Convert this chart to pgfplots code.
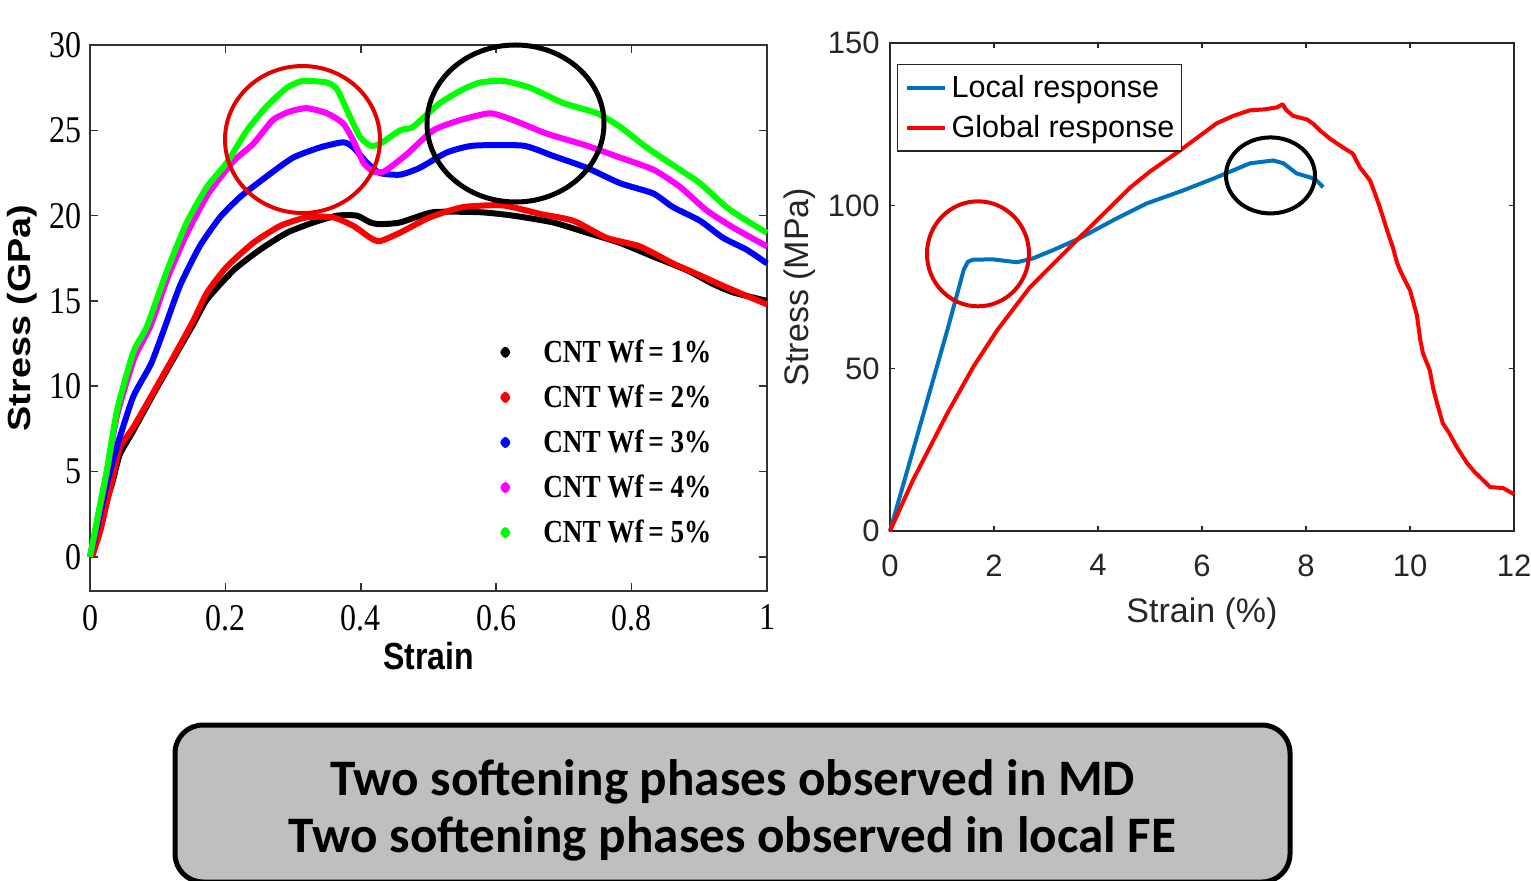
\documentclass[border=0pt]{standalone}
\usepackage{graphicx}
\usepackage{pgfplots}
\pgfplotsset{compat=1.18}
\usepackage{fontspec}
\setmainfont{Liberation Serif}
\newfontfamily\arialf{Liberation Sans}
\newfontfamily\calibrif{Carlito}

\definecolor{mlblue}{rgb}{0,0.447,0.741}
\definecolor{mlgray}{rgb}{0.15,0.15,0.15}
\definecolor{boxgray}{RGB}{191,191,191}
\definecolor{cntgreen}{RGB}{0,255,0}
\definecolor{cntmag}{RGB}{255,0,255}
\definecolor{cntblue}{RGB}{0,0,255}
\definecolor{cntred}{RGB}{255,0,0}

\newcommand{\vs}[1]{\scalebox{1}[1.18]{#1}}

\begin{document}
\begin{tikzpicture}
\useasboundingbox (0,0) rectangle (765.5pt,440pt);

% ---------------- MD stress-strain curves ----------------
\begin{axis}[
  at={(45pt,144.5pt)}, anchor=south west,
  scale only axis, width=338.5pt, height=273pt,
  xmin=0, xmax=1, ymin=-2, ymax=30,
  xtick={0,0.2,0.4,0.6,0.8,1}, ytick={0,5,10,15,20,25,30},
  tick align=inside, major tick length=4pt,
  axis line style={line width=1pt, black!80},
  every tick/.style={black!80, line width=0.8pt},
  /pgf/number format/assume math mode=true,
  tick label style={font=\fontsize{16}{16}\selectfont},
  xticklabel={\vs{\pgfmathprintnumber{\tick}}},
  yticklabel={\vs{\pgfmathprintnumber{\tick}}},
  xticklabel style={inner ysep=0pt, yshift=-6.75pt},
  yticklabel style={inner xsep=0pt, xshift=-4pt},
  xlabel={\scalebox{1}[1.18]{Strain}},
  ylabel={\scalebox{1.18}[1]{Stress (GPa)}},
  label style={font=\arialf\bfseries\fontsize{16}{16}\selectfont},
  xlabel style={at={(axis description cs:0.5,-0.119)}, anchor=center},
  ylabel style={at={(axis description cs:-0.1,0.5)}, anchor=center},
  legend style={draw=none, fill=none, at={(axis cs:0.61,13.0)}, anchor=north west,
    font=\bfseries\fontsize{13.6}{13.6}\selectfont, row sep=5.75pt, inner sep=0pt,
    /tikz/every odd column/.append style={column sep=16pt}},
  legend cell align=left,
  clip=false,
  every axis plot/.append style={line width=3pt, line join=round, smooth, tension=0.35},
]
\addplot[black, forget plot] table {
0 0
0.015 1.6
0.025 3.3
0.034 4.5
0.044 6.0
0.064 7.4
0.093 9.5
0.123 11.6
0.152 13.6
0.173 15.1
0.212 16.8
0.251 18.0
0.291 19.0
0.33 19.6
0.365 20.0
0.394 20.0
0.414 19.6
0.428 19.5
0.458 19.6
0.507 20.2
0.576 20.2
0.625 20.0
0.684 19.6
0.734 19.0
0.783 18.4
0.832 17.6
0.882 16.8
0.92 16.0
0.95 15.5
1.0 15.0
};
\addplot[cntred, forget plot] table {
0.003 0
0.015 1.5
0.025 3.2
0.034 4.7
0.044 6.4
0.064 7.6
0.093 9.6
0.123 11.7
0.152 13.8
0.173 15.5
0.202 17.0
0.241 18.4
0.281 19.4
0.32 19.9
0.359 19.9
0.389 19.4
0.414 18.7
0.428 18.5
0.458 19.0
0.502 19.9
0.551 20.5
0.61 20.6
0.665 20.1
0.714 19.7
0.763 18.7
0.812 18.2
0.861 17.2
0.901 16.5
0.94 15.8
1.0 14.8
};
\addplot[cntblue, forget plot] table {
0 0
0.012 2.0
0.025 4.3
0.04 6.5
0.064 9.4
0.09 11.3
0.11 13.4
0.133 15.9
0.162 18.2
0.192 19.9
0.222 21.1
0.261 22.3
0.3 23.4
0.34 24.0
0.374 24.3
0.389 24.0
0.409 23.1
0.428 22.5
0.458 22.4
0.487 22.8
0.527 23.7
0.566 24.1
0.64 24.1
0.684 23.5
0.734 22.8
0.783 21.9
0.832 21.3
0.861 20.5
0.901 19.7
0.935 18.7
0.97 18.0
1.0 17.2
};
\addplot[cntmag, forget plot] table {
0 0
0.012 2.3
0.025 5.0
0.04 8.3
0.065 11.6
0.09 13.6
0.115 16.4
0.145 19.1
0.175 21.3
0.212 23.2
0.241 24.2
0.27 25.6
0.295 26.1
0.32 26.3
0.35 26.0
0.374 25.4
0.389 24.4
0.404 23.1
0.418 22.6
0.435 22.6
0.468 23.6
0.507 25.0
0.547 25.6
0.591 26.0
0.625 25.6
0.675 24.8
0.734 24.1
0.783 23.4
0.832 22.7
0.871 21.7
0.911 20.3
0.95 19.3
1.0 18.2
};
\addplot[cntgreen, forget plot] table {
0 0
0.012 2.5
0.025 5.1
0.04 8.6
0.064 12.0
0.084 13.5
0.114 16.8
0.143 19.6
0.173 21.7
0.202 23.1
0.232 25.0
0.261 26.4
0.291 27.5
0.315 27.9
0.35 27.8
0.365 27.4
0.384 25.8
0.399 24.6
0.414 24.1
0.428 24.2
0.458 25.0
0.477 25.2
0.517 26.6
0.551 27.4
0.576 27.8
0.61 27.9
0.65 27.5
0.699 26.6
0.749 26.0
0.783 25.2
0.822 24.0
0.871 22.7
0.901 21.9
0.94 20.5
0.97 19.7
1.0 19.0
};
\addlegendimage{only marks, mark=diamond*, mark size=1.3pt, black}
\addlegendentry{\vs{CNT Wf\,= 1\%}}
\addlegendimage{only marks, mark=diamond*, mark size=1.3pt, cntred}
\addlegendentry{\vs{CNT Wf\,= 2\%}}
\addlegendimage{only marks, mark=diamond*, mark size=1.3pt, cntblue}
\addlegendentry{\vs{CNT Wf\,= 3\%}}
\addlegendimage{only marks, mark=diamond*, mark size=1.3pt, cntmag}
\addlegendentry{\vs{CNT Wf\,= 4\%}}
\addlegendimage{only marks, mark=diamond*, mark size=1.3pt, cntgreen}
\addlegendentry{\vs{CNT Wf\,= 5\%}}
% softening regions
\draw[red!90!black, line width=2pt] (axis cs:0.3139,24.46) ellipse [x radius=38.75pt, y radius=36.75pt];
\draw[black, line width=2.5pt] (axis cs:0.6285,25.40) ellipse [x radius=44.25pt, y radius=39.25pt];
\end{axis}

% ---------------- FE local / global response ----------------
\begin{axis}[
  at={(445pt,174.5pt)}, anchor=south west,
  scale only axis, width=312pt, height=244pt,
  xmin=0, xmax=12, ymin=0, ymax=150,
  xtick={0,2,4,6,8,10,12}, ytick={0,50,100,150},
  tick align=inside, major tick length=2.5pt,
  axis line style={mlgray, line width=0.6pt},
  every tick/.style={mlgray, line width=0.6pt},
  /pgf/number format/assume math mode=true,
  tick label style={font=\arialf\fontsize{15.5}{15.5}\selectfont, text=mlgray},
  xticklabel style={inner ysep=0pt, yshift=-11.5pt},
  yticklabel style={inner xsep=0pt, xshift=-5pt},
  xlabel={Strain (\%)}, ylabel={Stress (MPa)},
  label style={font=\arialf\fontsize{17}{17}\selectfont, text=mlgray},
  xlabel style={at={(axis description cs:0.5,-0.17)}, anchor=center},
  ylabel style={at={(axis description cs:-0.144,0.5)}, anchor=center},
  legend style={at={(axis cs:0.135,143.5)}, anchor=north west,
    draw=mlgray, line width=0.6pt, fill=white,
    font=\arialf\fontsize{15.3}{15.3}\selectfont,
    inner xsep=1pt, inner ysep=4.25pt, row sep=5.5pt,
    nodes={inner xsep=2.5pt, inner ysep=1pt}},
  legend cell align=left,
  legend image code/.code={\path (0pt,0pt); \draw[#1, line width=2pt] (2.5pt,0pt) -- (21.5pt,0pt);},
  clip=false,
]
\addplot[mlblue, line width=2pt, line join=round] table {
0 0
0.5 28
1.1 61.6
1.42 80.4
1.5 82.8
1.6 83.4
1.98 83.5
2.44 82.6
2.75 83.8
3.13 86.3
3.65 90.0
4.29 95.5
4.94 100.7
5.64 104.7
6.28 108.7
6.92 113.0
7.37 113.9
7.57 113.0
7.82 109.9
8.08 108.7
8.2 107.8
8.33 105.7
};
\addlegendentry{Local response}
\addplot[cntred, line width=2pt, line join=round] table {
0 0
0.44 15.6
1.1 36.1
1.6 50.4
2.06 61.7
2.69 74.9
3.65 90.3
4.62 105.6
5.0 110.5
5.58 117.0
6.28 125.3
6.6 127.6
6.92 129.3
7.2 129.6
7.44 130.2
7.55 131.2
7.62 129.4
7.75 127.6
8.02 126.5
8.15 125.0
8.27 123.1
8.46 120.6
8.71 117.9
8.9 116.0
8.98 113.5
9.04 111.7
9.23 107.8
9.32 104.0
9.42 99.5
9.56 92.4
9.67 87.2
9.75 82.5
9.81 80.1
9.92 76.5
10.0 74.0
10.13 66.5
10.2 58.5
10.25 54.6
10.38 49.4
10.45 43.5
10.52 39.3
10.63 33.1
10.75 30.2
10.9 25.8
11.1 20.8
11.25 18.0
11.35 16.5
11.54 13.5
11.79 13.2
12.0 11.3
};
\addlegendentry{Global response}
\draw[red!90!black, line width=2pt] (axis cs:1.692,85.2) ellipse [x radius=25.5pt, y radius=26.25pt];
\draw[black, line width=2pt] (axis cs:7.317,109.3) ellipse [x radius=22.25pt, y radius=19pt];
\end{axis}

% ---------------- summary box ----------------
\draw[line width=2.5pt, fill=boxgray, rounded corners=14pt] (87.5pt,-1pt) rectangle (645pt,77.5pt);
\node[anchor=base, font=\calibrif\bfseries\fontsize{25.6}{25.6}\selectfont, inner sep=0pt] at (366.25pt,42.5pt) {Two softening phases observed in MD};
\node[anchor=base, font=\calibrif\bfseries\fontsize{25.6}{25.6}\selectfont, inner sep=0pt] at (366.25pt,14pt) {Two softening phases observed in local FE};
\end{tikzpicture}
\end{document}
